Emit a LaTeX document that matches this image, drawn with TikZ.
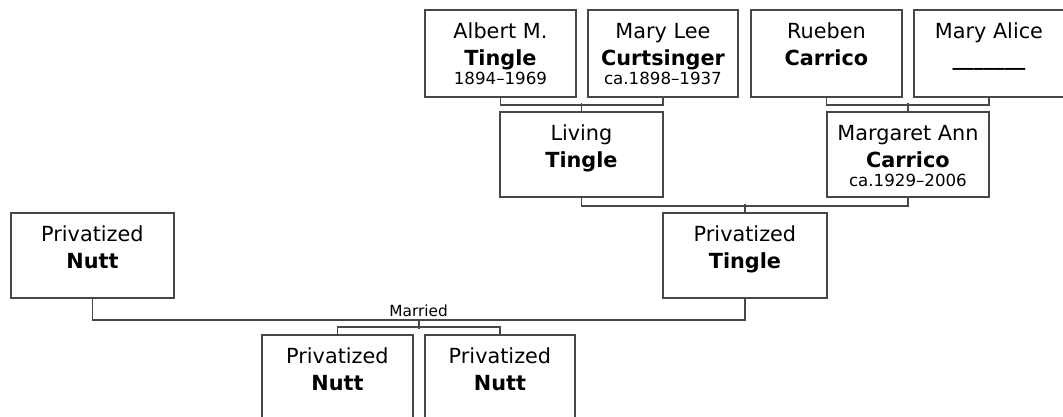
\documentclass[tikz,border=0pt]{standalone}
\usepackage{fontspec}
\setmainfont{DejaVu Sans}
\usetikzlibrary{positioning}
\newcommand{\yrs}[1]{{\fontsize{12.5}{13.5}\selectfont #1}}
\tikzset{
  person/.style={draw=black!72, line width=1.4pt, rectangle, inner sep=0pt,
    anchor=north west, minimum height=63.75pt},
  nametext/.style={anchor=north, align=center, inner sep=0pt,
    font=\fontsize{15.6}{20.25}\selectfont},
  link/.style={draw=black!72, line width=1.4pt},
  wedtext/.style={anchor=base, inner sep=0pt, font=\fontsize{11.5}{13}\selectfont}
}
\begin{document}
\begin{tikzpicture}[x=0.75pt,y=-0.75pt,line join=miter]
  \useasboundingbox (0,0) rectangle (1063,417);
  \clip (0,0) rectangle (1063,417);
  % grandparents
  \node[person, minimum width=113.25pt, minimum height=65.25pt] (albert) at (424,9) {};
  \node[person, minimum width=112.5pt, minimum height=65.25pt] (marylee) at (587,9) {};
  \node[person, minimum width=113.25pt, minimum height=65.25pt] (rueben) at (750,9) {};
  \node[person, minimum width=112.5pt, minimum height=65.25pt] (maryalice) at (913,9) {};
  \node[nametext] (alberttxt) at ([yshift=-7.6pt]albert.north) {\strut Albert M.\\\textbf{Tingle}\\[-6.2pt]\yrs{1894–1969}};
  \node[nametext] (maryleetxt) at ([yshift=-7.6pt]marylee.north) {\strut Mary Lee\\\textbf{Curtsinger}\\[-6.2pt]\yrs{ca.1898–1937}};
  \node[nametext] (ruebentxt) at ([yshift=-7.6pt]rueben.north) {\strut Rueben\\\textbf{Carrico}};
  \node[nametext] (maryalicetxt) at ([yshift=-7.6pt]maryalice.north) {\strut Mary Alice\\\textbf{\_\_\_\_\_\_\_}};
  % parents
  \node[person, minimum width=122.25pt] (living) at (499,111) {};
  \node[person, minimum width=121.5pt] (margaret) at (826,111) {};
  \node[nametext] (livingtxt) at ([yshift=-7.6pt]living.north) {\strut Living\\\textbf{Tingle}};
  \node[nametext] (margarettxt) at ([yshift=-7.6pt]margaret.north) {\strut Margaret Ann\\\textbf{Carrico}\\[-6.2pt]\yrs{ca.1929–2006}};
  % couple
  \node[person, minimum width=122.25pt] (nutt) at (10,212) {};
  \node[person, minimum width=123pt] (tingle) at (662,212) {};
  \node[nametext] (nutttxt) at ([yshift=-7.6pt]nutt.north) {\strut Privatized\\\textbf{Nutt}};
  \node[nametext] (tingletxt) at ([yshift=-7.6pt]tingle.north) {\strut Privatized\\\textbf{Tingle}};
  % children
  \node[person, minimum width=113.25pt, minimum height=90pt] (kidone) at (261,334) {};
  \node[person, minimum width=112.5pt, minimum height=90pt] (kidtwo) at (424,334) {};
  \node[nametext] (kidonetxt) at ([yshift=-7.6pt]kidone.north) {\strut Privatized\\\textbf{Nutt}};
  \node[nametext] (kidtwotxt) at ([yshift=-7.6pt]kidtwo.north) {\strut Privatized\\\textbf{Nutt}};
  % connectors
  \draw[link] (albert.south) -- ++(0,7) -| (marylee.south);
  \draw[link] (living.north) -- ++(0,-8);
  \draw[link] (rueben.south) -- ++(0,7) -| (maryalice.south);
  \draw[link] (margaret.north) -- ++(0,-8);
  \draw[link] (living.south) -- ++(0,8) -| (margaret.south);
  \draw[link] (tingle.north) -- ++(0,-8);
  \draw[link] (nutt.south) -- ++(0,21) -| (tingle.south) node[coordinate, pos=0.25] (wed) {};
  \node[wedtext] (married) at ([yshift=2.5pt]wed) {Married};
  \draw[link] (wed) -- ++(0,9);
  \draw[link] (kidone.north) -- ++(0,-7) -| (kidtwo.north);
\end{tikzpicture}
\end{document}
